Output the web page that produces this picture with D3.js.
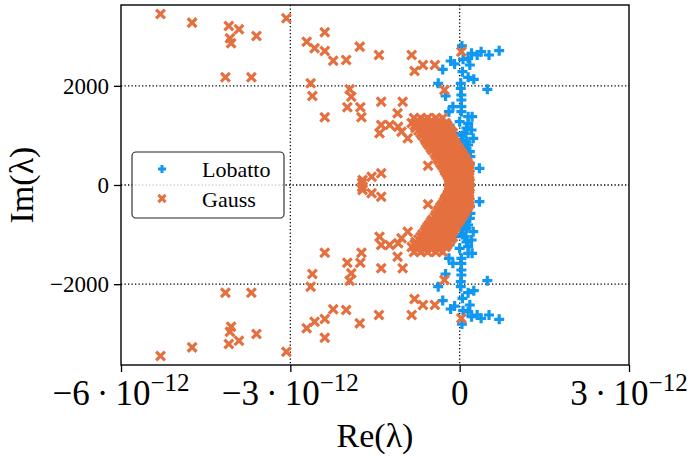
<!DOCTYPE html>
<html><head><meta charset="utf-8">
<script src="https://cdn.jsdelivr.net/npm/d3@7"></script>
<style>body{margin:0;background:#fff}svg{display:block}</style>
</head><body><svg id="c" width="693" height="462"></svg>
<script>
// Re values in units of 1e-12, Im values as is
const RE_UNIT = 1e-12;
const xTicks = [-6e-12, -3e-12, 0, 3e-12];
const xTickMant = ["\u22126", "\u22123", "0", "3"];
const xTickExp = "\u221212";
const yTicks = [-2000, 0, 2000];
const yTickLabels = ["\u22122000", "0", "2000"];
const seriesNames = ["Lobatto", "Gauss"];
const seriesColors = ["#0e98f2", "#e5703f"];

const gaussUpper = [[-5.30,3450],[-4.74,3274],[-4.09,3207],[-3.91,3140],[-4.07,2959],[-4.05,2858],[-3.60,3005],[-3.07,3362],[-4.15,2172],[-3.69,2172],[-2.71,2890],[-2.57,2757],[-2.39,3080],[-2.39,2703],[-2.24,2507],[-2.01,2521],[-1.77,2790],[-1.43,2622],[-0.85,2622],[-0.65,2420],[-0.80,2299],[-0.44,2420],[0.03,2689],[-2.64,2051],[-2.61,1795],[-1.95,1930],[-1.92,1781],[-2.39,1365],[-1.99,1567],[-1.76,1567],[-1.74,1365],[-1.39,1680],[-1.01,1680],[-1.10,1446],[-0.27,1916],[-1.39,1210],[-1.24,1210],[-1.09,1176],[-1.03,1075],[-1.42,1043],[-0.92,942],[-0.56,389],[-1.72,101],[-1.56,167],[-1.39,236],[-1.73,40],
[-0.81,1351],[-0.69,1351],[-0.57,1351],[-0.42,1351],[-0.30,1351],[-0.75,1300],[-0.62,1305],[-0.50,1298],[-0.37,1302],
[-0.85,1251],[-0.73,1251],[-0.60,1251],[-0.48,1251],[-0.35,1251],[-0.25,1251],
[-0.80,1200],[-0.67,1200],[-0.55,1200],[-0.43,1200],[-0.31,1200],[-0.22,1200],
[-0.78,1150],[-0.65,1150],[-0.53,1150],[-0.41,1150],[-0.28,1150],[-0.20,1150],
[-0.73,1100],[-0.61,1100],[-0.49,1100],[-0.36,1100],[-0.24,1100],[-0.16,1100],
[-0.69,1049],[-0.57,1049],[-0.44,1049],[-0.32,1049],[-0.21,1049],[-0.12,1049],
[-0.66,1000],[-0.54,1000],[-0.41,1000],[-0.29,1000],[-0.17,1000],
[-0.62,948],[-0.50,948],[-0.37,948],[-0.25,948],[-0.13,948],
[-0.60,900],[-0.47,900],[-0.35,900],[-0.22,900],[-0.11,900],
[-0.57,847],[-0.44,847],[-0.32,847],[-0.19,847],[-0.08,847],
[-0.54,800],[-0.42,800],[-0.29,800],[-0.17,800],[-0.06,800],
[-0.51,746],[-0.39,746],[-0.27,746],[-0.14,746],[-0.03,746],
[-0.48,700],[-0.36,700],[-0.23,700],[-0.11,700],[0.00,700],
[-0.44,645],[-0.32,645],[-0.19,645],[-0.07,645],[0.03,645],
[-0.42,600],[-0.30,600],[-0.17,600],[-0.05,600],[0.06,600],
[-0.39,545],[-0.27,545],[-0.14,545],[-0.02,545],[0.09,545],
[-0.37,500],[-0.24,500],[-0.12,500],[0.01,500],[0.11,500],
[-0.34,444],[-0.21,444],[-0.09,444],[0.04,444],[0.14,444],
[-0.31,400],[-0.19,400],[-0.07,400],[0.06,400],[0.16,400],
[-0.28,343],[-0.16,343],[-0.04,343],[0.09,343],[0.18,343],
[-0.26,290],[-0.14,290],[-0.02,290],[0.11,290],[0.17,290],
[-0.23,242],[-0.11,242],[0.02,242],[0.14,242],
[-0.21,190],[-0.09,190],[0.03,190],[0.15,190],
[-0.19,141],[-0.07,141],[0.05,141],[0.16,141],
[-0.19,90],[-0.06,90],[0.06,90],[0.17,90],
[-0.18,40],[-0.05,40],[0.07,40],[0.18,40]];

const gaussLower = [[-5.30,-3450],[-4.74,-3274],[-4.09,-3207],[-3.91,-3140],[-4.07,-2959],[-4.05,-2858],[-3.60,-3005],[-3.07,-3362],[-4.15,-2172],[-3.69,-2172],[-2.71,-2890],[-2.57,-2757],[-2.39,-3080],[-2.39,-2703],[-2.24,-2507],[-2.01,-2521],[-1.77,-2790],[-1.43,-2622],[-0.85,-2622],[-0.65,-2420],[-0.80,-2299],[-0.44,-2420],[0.03,-2689],[-2.64,-2051],[-2.61,-1795],[-1.95,-1930],[-1.92,-1781],[-2.39,-1365],[-1.99,-1567],[-1.76,-1567],[-1.74,-1365],[-1.39,-1680],[-1.01,-1680],[-1.10,-1446],[-0.27,-1916],[-1.39,-1210],[-1.24,-1210],[-1.09,-1176],[-1.03,-1075],[-1.42,-1043],[-0.92,-942],[-0.56,-389],[-1.72,-101],[-1.56,-167],[-1.39,-236],[-1.73,-40],
[-0.81,-1351],[-0.69,-1351],[-0.57,-1351],[-0.42,-1351],[-0.30,-1351],[-0.75,-1300],[-0.62,-1305],[-0.50,-1298],[-0.37,-1302],
[-0.85,-1251],[-0.73,-1251],[-0.60,-1251],[-0.48,-1251],[-0.35,-1251],[-0.25,-1251],
[-0.80,-1200],[-0.67,-1200],[-0.55,-1200],[-0.43,-1200],[-0.31,-1200],[-0.22,-1200],
[-0.78,-1150],[-0.65,-1150],[-0.53,-1150],[-0.41,-1150],[-0.28,-1150],[-0.20,-1150],
[-0.73,-1100],[-0.61,-1100],[-0.49,-1100],[-0.36,-1100],[-0.24,-1100],[-0.16,-1100],
[-0.69,-1049],[-0.57,-1049],[-0.44,-1049],[-0.32,-1049],[-0.21,-1049],[-0.12,-1049],
[-0.66,-1000],[-0.54,-1000],[-0.41,-1000],[-0.29,-1000],[-0.17,-1000],
[-0.62,-948],[-0.50,-948],[-0.37,-948],[-0.25,-948],[-0.13,-948],
[-0.60,-900],[-0.47,-900],[-0.35,-900],[-0.22,-900],[-0.11,-900],
[-0.57,-847],[-0.44,-847],[-0.32,-847],[-0.19,-847],[-0.08,-847],
[-0.54,-800],[-0.42,-800],[-0.29,-800],[-0.17,-800],[-0.06,-800],
[-0.51,-746],[-0.39,-746],[-0.27,-746],[-0.14,-746],[-0.03,-746],
[-0.48,-700],[-0.36,-700],[-0.23,-700],[-0.11,-700],[0.00,-700],
[-0.44,-645],[-0.32,-645],[-0.19,-645],[-0.07,-645],[0.03,-645],
[-0.42,-600],[-0.30,-600],[-0.17,-600],[-0.05,-600],[0.06,-600],
[-0.39,-545],[-0.27,-545],[-0.14,-545],[-0.02,-545],[0.09,-545],
[-0.37,-500],[-0.24,-500],[-0.12,-500],[0.01,-500],[0.11,-500],
[-0.34,-444],[-0.21,-444],[-0.09,-444],[0.04,-444],[0.14,-444],
[-0.31,-400],[-0.19,-400],[-0.07,-400],[0.06,-400],[0.16,-400],
[-0.28,-343],[-0.16,-343],[-0.04,-343],[0.09,-343],[0.18,-343],
[-0.26,-290],[-0.14,-290],[-0.02,-290],[0.11,-290],[0.17,-290],
[-0.23,-242],[-0.11,-242],[0.02,-242],[0.14,-242],
[-0.21,-190],[-0.09,-190],[0.03,-190],[0.15,-190],
[-0.19,-141],[-0.07,-141],[0.05,-141],[0.16,-141],
[-0.19,-90],[-0.06,-90],[0.06,-90],[0.17,-90],
[-0.18,-40],[-0.05,-40],[0.07,-40],[0.18,-40]];

const lobattoUpper = [[0.04,2804],[0.70,2709],[0.52,2622],[0.38,2689],[0.31,2622],[0.21,2656],[0.15,2555],[0.06,2535],[-0.16,2501],[-0.09,2441],[-0.30,2330],[0.18,2420],[0.05,2285],[0.15,2172],[0.25,2132],[-0.38,2051],[0.02,2051],[0.02,1950],[0.49,1930],[-0.25,1795],[0.03,1815],[0.03,1714],[-0.12,1579],[0.03,1579],[-0.19,1478],[0.03,1478],[0.15,1378],[0.22,1378],[-0.18,1210],[0.00,1277],[0.15,1244],[0.21,1109],[-0.09,1043],[0.09,1043],[0.24,942],[0.03,908],[0.15,807],[0.18,672],[0.19,571],[0.18,438],[0.35,337],[0.04,202],[0.09,101],[0.12,1150],[0.05,1000],[0.12,870],[0.08,740],[0.12,610],[0.10,500]];

const lobattoLower = [[0.04,-2804],[0.70,-2709],[0.52,-2622],[0.38,-2689],[0.31,-2622],[0.21,-2656],[0.15,-2555],[0.06,-2535],[-0.16,-2501],[-0.09,-2441],[-0.30,-2330],[0.18,-2420],[0.05,-2285],[0.15,-2172],[0.25,-2132],[-0.38,-2051],[0.02,-2051],[0.02,-1950],[0.49,-1930],[-0.25,-1795],[0.03,-1815],[0.03,-1714],[-0.12,-1579],[0.03,-1579],[-0.19,-1478],[0.03,-1478],[0.15,-1378],[0.22,-1378],[-0.18,-1210],[0.00,-1277],[0.15,-1244],[0.21,-1109],[-0.09,-1043],[0.09,-1043],[0.24,-942],[0.03,-908],[0.15,-807],[0.18,-672],[0.19,-571],[0.18,-438],[0.35,-337],[0.04,-202],[0.09,-101],[0.12,-1150],[0.05,-1000],[0.12,-870],[0.08,-740],[0.12,-610],[0.10,-500]];

const lobatto = lobattoUpper.concat(lobattoLower);
const gauss = gaussUpper.concat(gaussLower);

const svg = d3.select("#c");
const L = 121, R = 629, T = 5, B = 365;
const x = d3.scaleLinear().domain([-6e-12, 3e-12]).range([L, R]);
const y = d3.scaleLinear().domain([-3630, 3630]).range([B, T]);
const font = "'Liberation Serif','DejaVu Serif',serif";

// grid
const grid = svg.append("g").attr("stroke", "#000").attr("stroke-width", 1.3).attr("stroke-dasharray", "1.3,2.2");
grid.selectAll("line.gx").data(xTicks.slice(1, 3)).join("line")
  .attr("x1", d => x(d)).attr("x2", d => x(d)).attr("y1", T).attr("y2", B);
grid.selectAll("line.gy").data(yTicks).join("line")
  .attr("y1", d => y(d)).attr("y2", d => y(d)).attr("x1", L).attr("x2", R);

// markers
const plusPath = "M-5,0H5M0,-5V5";
const crossPath = "M-4.4,-4.4L4.4,4.4M-4.4,4.4L4.4,-4.4";
svg.append("g").selectAll("path").data(lobatto).join("path")
  .attr("d", plusPath).attr("transform", d => `translate(${x(d[0]*RE_UNIT)},${y(d[1])})`)
  .attr("stroke", seriesColors[0]).attr("stroke-width", 3.2).attr("fill", "none");
svg.append("g").selectAll("path").data(gauss).join("path")
  .attr("d", crossPath).attr("transform", d => `translate(${x(d[0]*RE_UNIT)},${y(d[1])})`)
  .attr("stroke", seriesColors[1]).attr("stroke-width", 3.2).attr("fill", "none");

// frame
svg.append("rect").attr("x", L).attr("y", T).attr("width", R - L).attr("height", B - T)
  .attr("fill", "none").attr("stroke", "#000").attr("stroke-width", 1.4);

// axes
const xAxis = svg.append("g").attr("transform", `translate(0,${B})`)
  .call(d3.axisBottom(x).tickValues(xTicks).tickSize(7).tickFormat(""));
const yAxis = svg.append("g").attr("transform", `translate(${L},0)`)
  .call(d3.axisLeft(y).tickValues(yTicks).tickSize(7).tickFormat(""));
[xAxis, yAxis].forEach(a => { a.select(".domain").remove(); a.selectAll("line").attr("stroke", "#000").attr("stroke-width", 1.3); });

// x tick labels
xTicks.forEach((v, i) => {
  const t = svg.append("text").attr("x", x(v)).attr("y", 405).attr("text-anchor", "middle")
    .attr("font-family", font).attr("font-size", 35).attr("fill", "#000");
  if (v === 0) { t.text(xTickMant[i]); }
  else {
    t.append("tspan").text(xTickMant[i] + "\u2009\u00b7\u200910");
    t.append("tspan").attr("dy", -14).attr("font-size", 25).text(xTickExp);
  }
});
// y tick labels
yTicks.forEach((v, i) => {
  svg.append("text").attr("x", 109).attr("y", y(v) + 8).attr("text-anchor", "end")
    .attr("font-family", font).attr("font-size", 23).attr("fill", "#000").text(yTickLabels[i]);
});

// axis titles
svg.append("text").attr("x", (L + R) / 2).attr("y", 447).attr("text-anchor", "middle")
  .attr("font-family", font).attr("font-size", 34).text("Re(\u03bb)");
svg.append("text").attr("transform", `translate(33,${(T + B) / 2}) rotate(-90)`).attr("text-anchor", "middle")
  .attr("font-family", font).attr("font-size", 34).text("Im(\u03bb)");

// legend
const lg = svg.append("g");
lg.append("rect").attr("x", 132).attr("y", 152).attr("width", 152).attr("height", 66).attr("rx", 4)
  .attr("fill", "#fff").attr("fill-opacity", 0.8).attr("stroke", "#222").attr("stroke-width", 1.1);
lg.append("path").attr("d", "M-4,0H4M0,-4V4").attr("transform", "translate(162,169)")
  .attr("stroke", seriesColors[0]).attr("stroke-width", 3).attr("fill", "none");
lg.append("path").attr("d", "M-3.6,-3.6L3.6,3.6M-3.6,3.6L3.6,-3.6").attr("transform", "translate(162,198.5)")
  .attr("stroke", seriesColors[1]).attr("stroke-width", 3).attr("fill", "none");
lg.append("text").attr("x", 202).attr("y", 177).attr("font-family", font).attr("font-size", 22).text(seriesNames[0]);
lg.append("text").attr("x", 202).attr("y", 207).attr("font-family", font).attr("font-size", 22).text(seriesNames[1]);
</script></body></html>
